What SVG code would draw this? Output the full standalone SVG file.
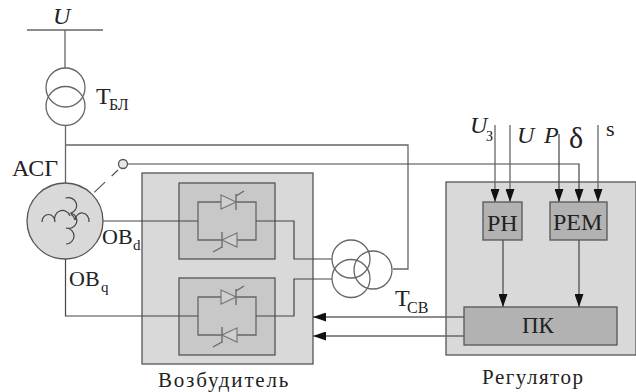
<svg xmlns="http://www.w3.org/2000/svg" width="636" height="392" viewBox="0 0 636 392" font-family="'Liberation Serif', serif">
<defs>
<style>
text{fill:#222;font-family:'Liberation Serif',serif}
.l{fill:none;stroke:#666;stroke-width:1.3}
.d{fill:none;stroke:#444;stroke-width:1.2}
.o{fill:#d9d9d9;stroke:#555;stroke-width:1.3}
.m{fill:#c8c8c8;stroke:#555;stroke-width:1.3}
.b{fill:#b2b2b2;stroke:#555;stroke-width:1.3}
.t{fill:#d0d0d0;stroke:#777;stroke-width:1.2}
.i{font-style:italic}
</style>
<marker id="a" markerUnits="userSpaceOnUse" markerWidth="13" markerHeight="9" refX="13" refY="4.5" orient="auto"><path d="M0 0L13 4.500L0 9Z" fill="#111"/></marker>
<g id="thy">
<path class="l" d="M19 19V0H42M58 0H77V38H58M42 38H19V19"/>
<path class="t" d="M42 -7L57 0L42 7Z"/><path class="l" d="M57 -8V8M57 -6L65 -11"/>
<path class="t" d="M58 31L43 38L58 45Z"/><path class="l" d="M43 30V46M43 45L34 50"/>
</g>
</defs>
<g id="regulator-box"><rect class="o" x="446" y="182" width="190" height="173"/></g>
<g id="exciter"><rect class="o" x="142" y="173" width="171" height="191"/>
<rect class="m" x="179" y="183" width="96" height="76"/>
<rect class="m" x="179" y="278" width="96" height="77"/>
<use href="#thy" x="179" y="202"/>
<use href="#thy" x="179" y="297"/>
<text x="158" y="387" font-size="21" letter-spacing="1.800">Возбудитель</text></g>
<g id="connectors">
<path class="l" d="M27 30H103M65 30V68M65.500 125V183M65.500 145H408V269H393"/>
<path class="d" d="M103 221H198M256 221H294V259H332M65.500 259V316H198M256 316H294V279H332"/>
<path d="M84 202L118 170" fill="none" stroke="#555" stroke-width="1.2" stroke-dasharray="8 6 15 9 10"/>
<path class="d" d="M128 164H579V202" marker-end="url(#a)"/>
<path class="l" d="M495 125V202" marker-end="url(#a)"/>
<path class="l" d="M510 125V202" marker-end="url(#a)"/>
<path class="d" d="M559 134V202" marker-end="url(#a)"/>
<path class="l" d="M598 125V202" marker-end="url(#a)"/>
<path class="d" d="M503 240V307" marker-end="url(#a)"/>
<path class="d" d="M579 240V307" marker-end="url(#a)"/>
<path class="l" d="M464 317H313" marker-end="url(#a)"/>
<path class="l" d="M464 336H313" marker-end="url(#a)"/>
</g>
<g id="bus"><text class="i" x="53" y="24" font-size="24">U</text></g>
<g id="block-transformer">
<circle class="l" cx="65.500" cy="87.500" r="19.500"/><circle class="l" cx="65.500" cy="106" r="19.500"/>
<text x="96" y="104" font-size="24">Т</text><text x="109" y="110" font-size="16">БЛ</text></g>
<g id="generator">
<circle class="o" cx="65" cy="221" r="38"/>
<path class="d" stroke-width="1.500" d="M65.500 198A8 7.500 0 0 1 71 213A8 7.500 0 0 1 66 228A8 8 0 0 1 66 244M42 222A6.500 7.500 0 0 1 55 222A7 7.500 0 0 1 70 216M89 222A7 8 0 0 0 75 220Q74 216 71 214"/>
<text x="12" y="176" font-size="24">АСГ</text>
<text x="102" y="244" font-size="22">ОВ</text><text x="133" y="250" font-size="15">d</text>
<text x="69" y="286" font-size="22">ОВ</text><text x="101" y="292" font-size="15">q</text></g>
<g id="switch"><circle cx="123" cy="164" r="4.500" fill="#e8e8e8" stroke="#555" stroke-width="1.300"/></g>
<g id="excitation-transformer">
<circle class="l" cx="351" cy="259" r="19"/><circle class="l" cx="351" cy="278.500" r="19"/><circle class="l" cx="373" cy="270" r="19"/>
<text x="395" y="306" font-size="24">Т</text><text x="407" y="313" font-size="16">СВ</text></g>
<g id="regulator-inputs">
<text class="i" x="470" y="133" font-size="24">U</text><text x="486" y="141" font-size="14">З</text>
<text class="i" x="517" y="143" font-size="24">U</text>
<text class="i" x="544" y="143" font-size="24">P</text>
<text x="569" y="148" font-size="30">δ</text>
<text x="606" y="136" font-size="22">s</text></g>
<g id="rn"><rect class="b" x="483" y="202" width="39" height="38"/><text x="487" y="231" font-size="24">РН</text></g>
<g id="rem"><rect class="b" x="550" y="202" width="57" height="38"/><text x="553" y="230" font-size="24">РЕМ</text></g>
<g id="pk"><rect class="b" x="464" y="307" width="153" height="38"/><text x="522" y="333" font-size="23">ПК</text></g>
<g id="regulator-label"><text x="482" y="384" font-size="21" letter-spacing="1.500">Регулятор</text></g>
</svg>
